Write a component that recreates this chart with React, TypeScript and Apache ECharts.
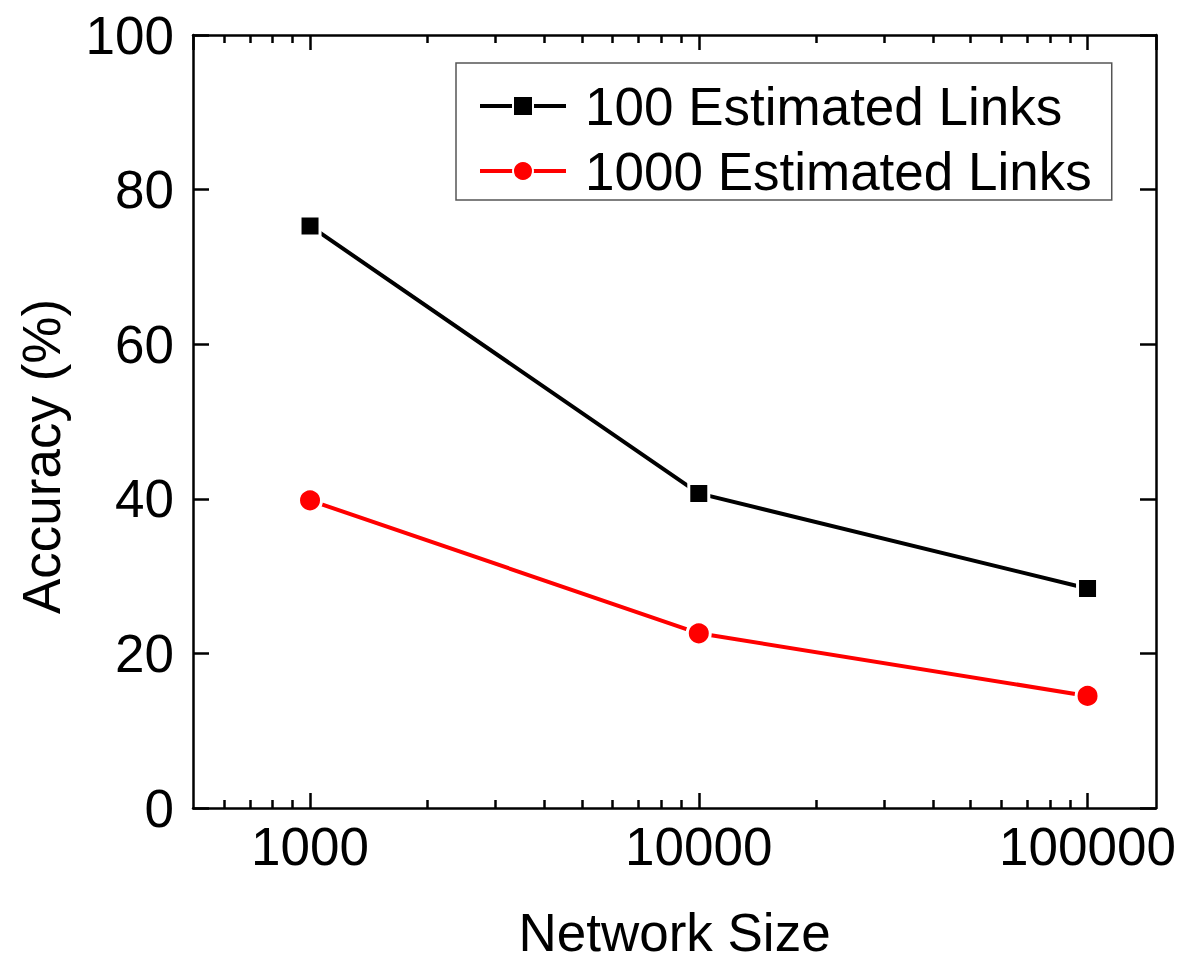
import React, { useEffect, useRef } from "react";
import * as echarts from "echarts";

const networkSizes = [1000, 10000, 100000];
const links100 = [75.3, 40.7, 28.4];
const links1000 = [39.8, 22.6, 14.5];
const seriesNames = ["100 Estimated Links", "1000 Estimated Links"];
const xMin = 500;
const xMax = 150000;
const minorTickValues = [
  600, 700, 800, 900,
  2000, 3000, 4000, 5000, 6000, 7000, 8000, 9000,
  20000, 30000, 40000, 50000, 60000, 70000, 80000, 90000,
];

const FONT = "'Liberation Sans', Arial, Helvetica, sans-serif";
const AXIS_W = 2.5;
const LINE_W = 4;

export default function App() {
  const ref = useRef<HTMLDivElement>(null);
  useEffect(() => {
    if (!ref.current) return;
    const chart = echarts.init(ref.current, undefined, { renderer: "svg" });
    const lineAxis = { show: true, onZero: false, lineStyle: { color: "#000", width: AXIS_W } };
    const minorLog = minorTickValues.map((v) => Math.log10(v));
    const minorAxis = (position: string) => ({
      type: "value",
      position,
      min: Math.log10(xMin),
      max: Math.log10(xMax),
      axisLine: { show: false, onZero: false },
      axisLabel: { show: false },
      splitLine: { show: false },
      axisTick: {
        show: true,
        inside: true,
        length: 8,
        customValues: minorLog,
        lineStyle: { color: "#000", width: AXIS_W },
      },
    });
    const data0 = networkSizes.map((x, i) => [x, links100[i]]);
    const data1 = networkSizes.map((x, i) => [x, links1000[i]]);
    chart.setOption({
      animation: false,
      backgroundColor: "#fff",
      textStyle: { fontFamily: FONT },
      grid: {
        left: 193,
        right: 24,
        top: 35,
        bottom: 152,
        containLabel: false,
        outerBoundsMode: "none",
      },
      legend: {
        orient: "vertical",
        left: 456,
        top: 63,
        padding: [16, 20, 2, 22],
        itemWidth: 86,
        itemHeight: 25,
        itemGap: 11,
        borderColor: "#555",
        borderWidth: 1.5,
        backgroundColor: "#fff",
        lineStyle: { width: LINE_W },
        textStyle: {
          fontFamily: FONT,
          fontSize: 53,
          color: "#000",
          lineHeight: 40,
          padding: [0, 0, 14, 14],
        },
        data: seriesNames,
      },
      xAxis: [
        {
          type: "log",
          logBase: 10,
          position: "bottom",
          min: xMin,
          max: xMax,
          axisLine: lineAxis,
          axisTick: { show: true, inside: true, length: 15, lineStyle: { color: "#000", width: AXIS_W } },
          axisLabel: {
            show: true,
            fontSize: 53,
            color: "#000",
            fontFamily: FONT,
            margin: 12,
            showMinLabel: false,
            showMaxLabel: false,
            formatter: (v: number) => String(Math.round(v)),
          },
          splitLine: { show: false },
          name: "Network Size",
          nameLocation: "middle",
          nameGap: 101,
          nameTextStyle: { fontSize: 53, lineHeight: 46, color: "#000", fontFamily: FONT },
        },
        {
          type: "log",
          logBase: 10,
          position: "top",
          min: xMin,
          max: xMax,
          axisLine: lineAxis,
          axisTick: { show: true, inside: true, length: 15, lineStyle: { color: "#000", width: AXIS_W } },
          axisLabel: { show: false },
          splitLine: { show: false },
        },
        minorAxis("bottom"),
        minorAxis("top"),
      ],
      yAxis: [
        {
          type: "value",
          position: "left",
          min: 0,
          max: 100,
          interval: 20,
          axisLine: lineAxis,
          axisTick: { show: true, inside: true, length: 16, lineStyle: { color: "#000", width: AXIS_W } },
          axisLabel: { fontSize: 53, color: "#000", fontFamily: FONT, margin: 19 },
          splitLine: { show: false },
          name: "Accuracy (%)",
          nameLocation: "middle",
          nameGap: 125,
          nameTextStyle: { fontSize: 53, color: "#000", fontFamily: FONT, padding: [0, 70, 0, 0] },
        },
        {
          type: "value",
          position: "right",
          min: 0,
          max: 100,
          interval: 20,
          axisLine: lineAxis,
          axisTick: { show: true, inside: true, length: 16, lineStyle: { color: "#000", width: AXIS_W } },
          axisLabel: { show: false },
          splitLine: { show: false },
        },
      ],
      series: [
        {
          name: seriesNames[0],
          type: "line",
          xAxisIndex: 0,
          yAxisIndex: 0,
          data: data0,
          symbol: "rect",
          symbolSize: 20,
          lineStyle: { color: "#000", width: LINE_W },
          itemStyle: { color: "#000", borderColor: "#fff", borderWidth: 3 },
          z: 3,
        },
        {
          name: seriesNames[1],
          type: "line",
          xAxisIndex: 0,
          yAxisIndex: 0,
          data: data1,
          symbol: "circle",
          symbolSize: 23,
          lineStyle: { color: "#ff0000", width: LINE_W },
          itemStyle: { color: "#ff0000", borderColor: "#fff", borderWidth: 3 },
          z: 3,
        },
      ],
    });
    return () => chart.dispose();
  }, []);
  return (
    <div
      ref={ref}
      style={{ position: "absolute", left: 0, top: 0, width: 1180, height: 960, background: "#fff" }}
    />
  );
}
